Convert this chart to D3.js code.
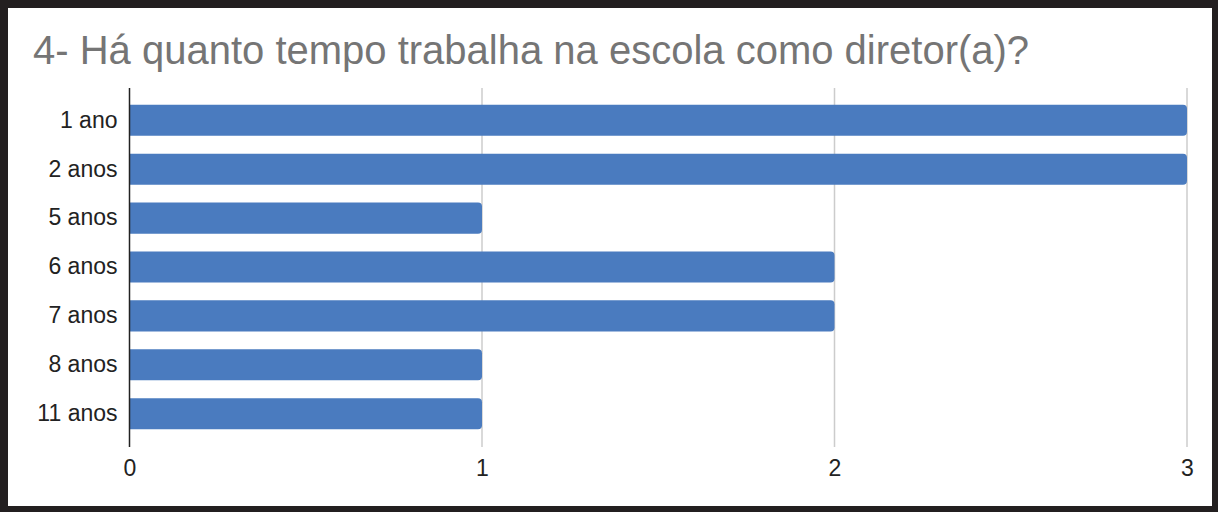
<!DOCTYPE html>
<html><head><meta charset="utf-8">
<script src="https://cdn.jsdelivr.net/npm/d3@7"></script>
<style>body{margin:0;background:#fff}svg{display:block}</style>
</head><body>
<script>
const categories = ["1 ano","2 anos","5 anos","6 anos","7 anos","8 anos","11 anos"];
const values = [3,3,1,2,2,1,1];
const xTicks = [0,1,2,3];
const title = "4- Há quanto tempo trabalha na escola como diretor(a)?";

const W=1218,H=512;
const svg=d3.select("body").append("svg").attr("width",W).attr("height",H);
svg.append("rect").attr("x",0).attr("y",0).attr("width",W).attr("height",H).attr("fill","#231f20");
svg.append("rect").attr("x",8).attr("y",8).attr("width",1204).attr("height",498).attr("fill","#fff");

const font="Arial, 'Liberation Sans', sans-serif";
svg.append("text").attr("x",33).attr("y",64).attr("font-family",font).attr("font-size",40)
  .attr("fill","#757575").text(title);

const x=d3.scaleLinear().domain([0,3]).range([129.5,1187]);
const y=d3.scaleBand().domain(categories).range([96,438]).paddingInner(0.365).paddingOuter(0.18);

// gridlines
svg.append("g").selectAll("line").data(xTicks.filter(d=>d>0)).join("line")
  .attr("x1",d=>x(d)).attr("x2",d=>x(d)).attr("y1",88).attr("y2",447)
  .attr("stroke","#cccccc").attr("stroke-width",1.5);

// bars with rounded right end
const r=4;
svg.append("g").selectAll("path").data(values).join("path")
  .attr("fill","#4a7bbf")
  .attr("d",(d,i)=>{
    const x0=x(0), x1=x(d), y0=y(categories[i]), h=y.bandwidth();
    return `M${x0},${y0}H${x1-r}Q${x1},${y0} ${x1},${y0+r}V${y0+h-r}Q${x1},${y0+h} ${x1-r},${y0+h}H${x0}Z`;
  });

// y axis line
svg.append("line").attr("x1",x(0)).attr("x2",x(0)).attr("y1",88).attr("y2",447)
  .attr("stroke","#222").attr("stroke-width",1.5);

// y labels
const yAxis=d3.axisLeft(y).tickSize(0).tickPadding(12);
const gy=svg.append("g").attr("transform",`translate(${x(0)},0)`).call(yAxis);
gy.select(".domain").remove();
gy.selectAll("text").attr("font-family",font).attr("font-size",23).attr("fill","#222");

// x labels
const xAxis=d3.axisBottom(x).tickValues(xTicks).tickSize(0).tickPadding(0).tickFormat(d3.format("d"));
const gx=svg.append("g").attr("transform",`translate(0,460)`).call(xAxis);
gx.select(".domain").remove();
gx.selectAll("text").attr("font-family",font).attr("font-size",23).attr("fill","#222");
</script>
</body></html>
